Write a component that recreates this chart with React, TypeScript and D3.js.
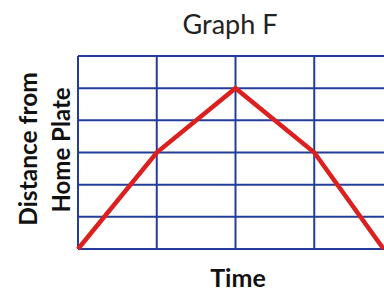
import React from "react";
import * as d3 from "d3";

const timeTicks = [0, 1, 2, 3, 4];
const distTicks = [0, 1, 2, 3, 4, 5, 6];
const timeValues = [0, 1, 2, 3, 3.88];
const distValues = [0, 3, 5, 3, 0];
const title = "Graph F";
const xLabel = "Time";
const yLabel = ["Distance from", "Home Plate"];

export default function App() {
  const W = 384, H = 293;
  const x = d3.scaleLinear().domain([0, 4]).range([78, 393]);
  const y = d3.scaleLinear().domain([0, 6]).range([249, 56]);
  const pts = timeValues.map((t, i) => [x(t), y(distValues[i])] as [number, number]);
  const line = d3.line()(pts) || "";
  const grid = "#233d9b";
  return (
    <svg width={W} height={H} style={{ position: "absolute", left: 0, top: 0, background: "#fff" }}>
      {timeTicks.map((t) => (
        <line key={"v" + t} x1={x(t)} x2={x(t)} y1={y(6)} y2={y(0)} stroke={grid} strokeWidth={2} />
      ))}
      {distTicks.map((d) => (
        <line key={"h" + d} x1={x(0)} x2={x(4)} y1={y(d)} y2={y(d)} stroke={grid} strokeWidth={2} />
      ))}
      <path d={line} fill="none" stroke="#dc1f1f" strokeWidth={4.5} strokeLinejoin="miter" />
      <text x={230} y={34} textAnchor="middle" fontFamily="Lato" fontSize={27} fill="#222">{title}</text>
      <text x={238} y={287} textAnchor="middle" fontFamily="Lato" fontWeight="bold" fontSize={25} fill="#111">{xLabel}</text>
      <text transform="translate(37,149) rotate(-90)" textAnchor="middle" fontFamily="Lato" fontWeight="bold" fontSize={24.5} fill="#111">{yLabel[0]}</text>
      <text transform="translate(70,150) rotate(-90)" textAnchor="middle" fontFamily="Lato" fontWeight="bold" fontSize={24} fill="#111">{yLabel[1]}</text>
    </svg>
  );
}
